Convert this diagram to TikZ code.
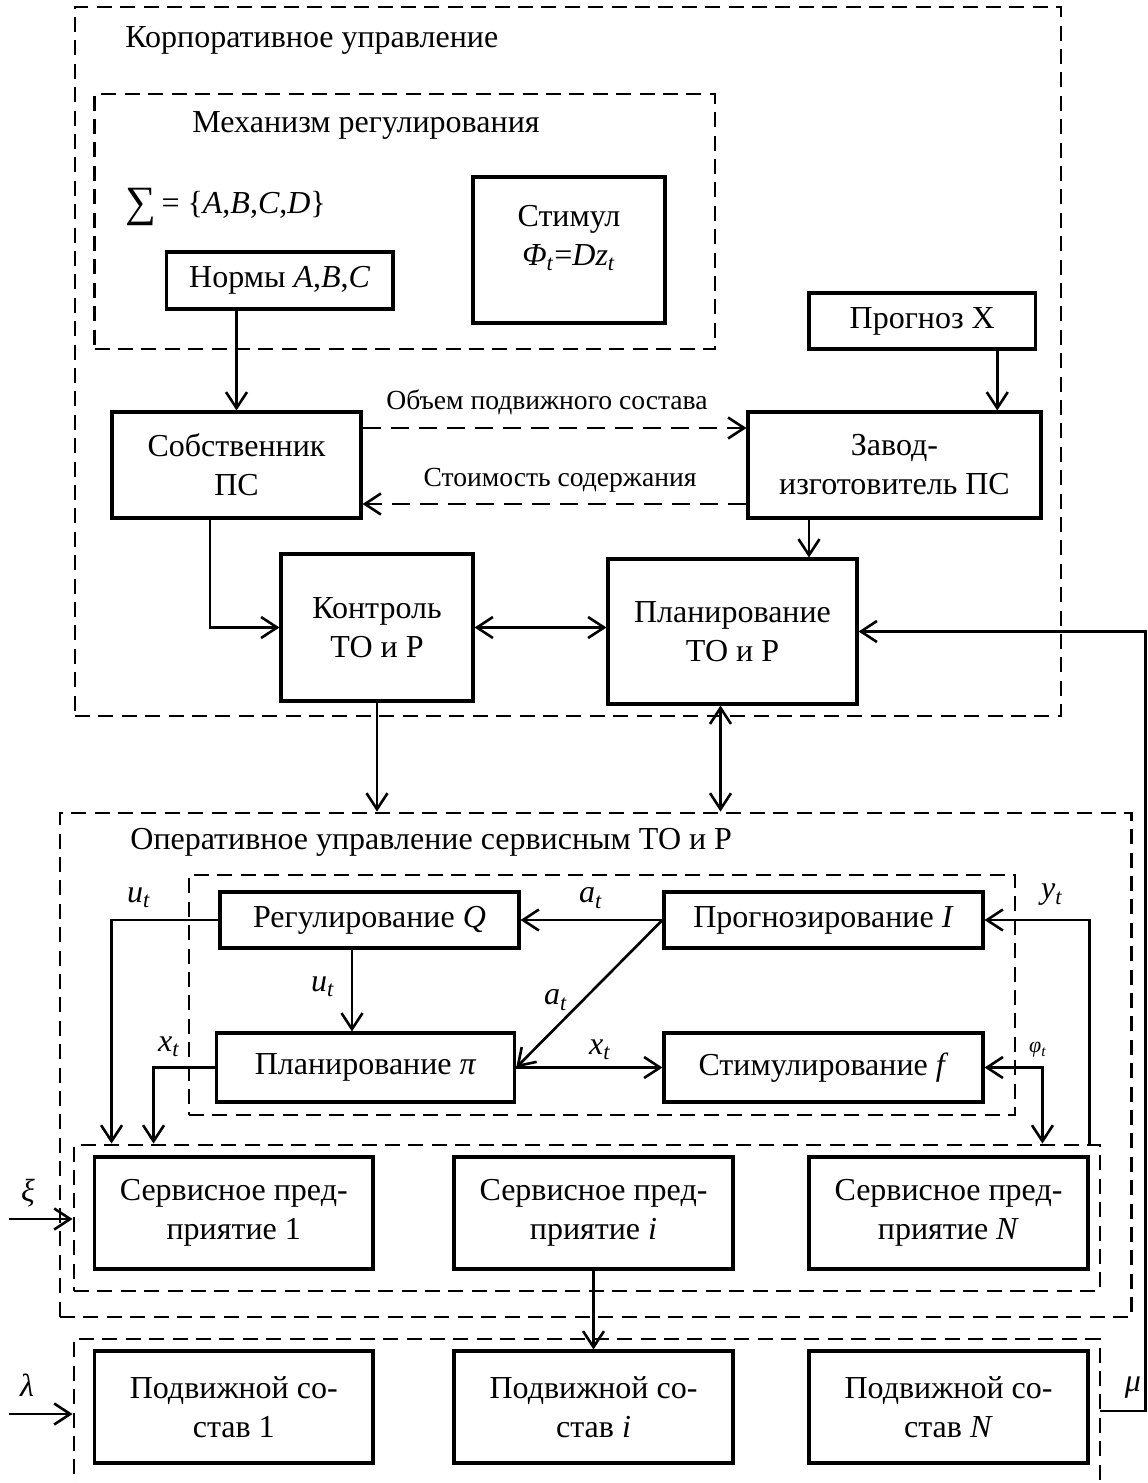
\documentclass[tikz,border=0pt]{standalone}
\usepackage{fontspec}
\setmainfont{Liberation Serif}
\usetikzlibrary{arrows.meta,fit}

\begin{document}
\begin{tikzpicture}[x=0.5pt,y=-0.5pt,
  every node/.style={font=\fontsize{16}{19.5}\selectfont},
  box/.style={draw,line width=1.55pt,inner sep=0pt,align=center},
  frame/.style={draw,line width=1.45pt,dash pattern=on 7.5pt off 4.2pt,inner sep=0pt},
  txt/.style={inner sep=0pt,align=center},
  small/.style={inner sep=0pt,font=\fontsize{13.8}{16}\selectfont},
  link/.style={line width=1.3pt,-{Straight Barb[length=8pt,width=10.5pt]}},
  link2/.style={line width=1.3pt,{Straight Barb[length=8pt,width=10.5pt]}-{Straight Barb[length=8pt,width=10.5pt]}},
  dlink/.style={link,dash pattern=on 9pt off 5pt}
]
\useasboundingbox (0,0) rectangle (1147,1483);

% ---------- corporate level ----------
\node[frame,fit={(75,7) (1061,716)}] (corp) {};
\node[txt,anchor=west] (tcorp) at (125,40) {Корпоративное управление};

\node[frame,fit={(94.5,94) (715,349)}] (mech) {};
\node[txt] (tmech) at (366,125) {Механизм регулирования};
\node[txt,anchor=west] (sigma) at (125,207) {\raisebox{-0.2ex}{\scalebox{1.35}{∑}}\,= \{\textit{A},\textit{B},\textit{C},\textit{D}\}};
\node[box,fit={(166.5,252) (393,309)}] (norms) {};
\node[txt] (normstxt) at (norms.center) {Нормы \textit{A},\textit{B},\textit{C}};
\node[box,fit={(473,177) (665,323)}] (stim) {};
\node[txt] (stimtxt) at (569,238) {Стимул\\\textit{Φ}\textsubscript{\textit{t}}=\textit{Dz}\textsubscript{\textit{t}}};

\node[box,fit={(809,293) (1035.5,349)}] (progX) {};
\node[txt] (progXtxt) at (progX.center) {Прогноз X};

\node[box,fit={(112,412) (361,518)}] (sob) {};
\node[txt] (sobtxt) at (sob.center) {Собственник\\ПС};
\node[box,fit={(748,412) (1041,518)}] (zavod) {};
\node[txt] (zavodtxt) at (zavod.center) {Завод-\\изготовитель ПС};
\node[box,fit={(281,554) (473,701)}] (ctrl) {};
\node[txt] (ctrltxt) at (ctrl.center) {Контроль\\ТО и Р};
\node[box,fit={(608,559) (857,704)}] (plan) {};
\node[txt] (plantxt) at (plan.center) {Планирование\\ТО и Р};

\draw[link] (sob.north |- norms.south) -- (sob.north);
\draw[link] ([xshift=37.5pt]progX.south) -- ([xshift=37.5pt]progX.south |- zavod.north);
\draw[dlink] ([yshift=18.5pt]sob.east) -- ([yshift=18.5pt]sob.east -| zavod.west);
\node[small] (lvol) at (547,402) {Объем подвижного состава};
\draw[dlink] ([yshift=-19.5pt]zavod.west) -- ([yshift=-19.5pt]zavod.west -| sob.east);
\node[small] (lcost) at (560,480) {Стоимость содержания};
\draw[link] ([xshift=-13.25pt]sob.south) |- (ctrl.west);
\draw[link2] (ctrl.east) -- (ctrl.east -| plan.west);
\draw[link] ([xshift=-42.75pt]zavod.south) -- ([xshift=-42.75pt]zavod.south |- plan.north);

% ---------- operational level ----------
\node[frame,fit={(60,813) (1131.5,1317)}] (op) {};
\node[txt,anchor=west] (top) at (130,842) {Оперативное управление сервисным ТО и Р};

\draw[link] (ctrl.south) -- (ctrl.south |- op.north);
\draw[link2] ([xshift=-6pt]plan.south) -- ([xshift=-6pt]plan.south |- op.north);

\node[frame,fit={(189,875) (1015,1115)}] (algo) {};
\node[box,fit={(220,892) (519,948)}] (reg) {};
\node[txt] (regtxt) at (reg.center) {Регулирование \textit{Q}};
\node[box,fit={(664,892) (983,948)}] (prog) {};
\node[txt] (progtxt) at (prog.center) {Прогнозирование \textit{I}};
\node[box,fit={(216.6,1033) (514.7,1102)}] (planpi) {};
\node[txt] (planpitxt) at (planpi.center) {Планирование \textit{π}};
\node[box,fit={(664,1033) (983,1102)}] (stimf) {};
\node[txt] (stimftxt) at (stimf.center) {Стимулирование \textit{f}};

\node[frame,fit={(74,1145) (1100,1291)}] (serv) {};
\node[box,fit={(94.5,1157) (373,1269)}] (s1) {};
\node[txt] (s1txt) at (s1.center) {Сервисное пред-\\приятие 1};
\node[box,fit={(454,1157) (733,1269)}] (si) {};
\node[txt] (sitxt) at (si.center) {Сервисное пред-\\приятие \textit{i}};
\node[box,fit={(809,1157) (1088,1269)}] (sN) {};
\node[txt] (sNtxt) at (sN.center) {Сервисное пред-\\приятие \textit{N}};

\draw[link] (prog.west) -- (reg.east);
\node[txt] (la1) at (591,898) {\textit{a}\textsubscript{\textit{t}}};
\draw[link] (prog.west) -- (planpi.east);
\node[txt] (la2) at (556,1000) {\textit{a}\textsubscript{\textit{t}}};
\draw[link] ([xshift=-8.75pt]reg.south) -- ([xshift=-8.75pt]reg.south |- planpi.north);
\node[txt] (lu2) at (323,987) {\textit{u}\textsubscript{\textit{t}}};
\draw[link] (planpi.east) -- (stimf.west);
\node[txt] (lx2) at (600,1050) {\textit{x}\textsubscript{\textit{t}}};

\draw[link] (reg.west) -| ([shift={(39,0)}]serv.north west);
\node[txt] (lu1) at (139,898) {\textit{u}\textsubscript{\textit{t}}};
\draw[link] (planpi.west) -| ([shift={(81,0)}]serv.north west);
\node[txt] (lx1) at (169,1047) {\textit{x}\textsubscript{\textit{t}}};
\draw[link] ([shift={(-12,0)}]serv.north east) |- (prog.east);
\node[txt] (ly) at (1052,895) {\textit{y}\textsubscript{\textit{t}}};
\draw[link2] (stimf.east) -| ([shift={(-59,0)}]serv.north east);
\node[txt,font=\fontsize{11}{12}\selectfont] (lphi) at (1038,1050) {\textit{φ}\textsubscript{\textit{t}}};

\coordinate (xiin) at (9,1219);
\draw[link] (xiin) -- (xiin -| serv.west);
\node[txt] (lxi) at (28,1193) {\textit{ξ}};

% ---------- rolling stock ----------
\node[frame,fit={(74,1339) (1100,1530)}] (pod) {};
\node[box,fit={(94.5,1351) (373,1463)}] (p1) {};
\node[txt] (p1txt) at (p1.center) {Подвижной со-\\став 1};
\node[box,fit={(454,1351) (733,1463)}] (pi) {};
\node[txt] (pitxt) at (pi.center) {Подвижной со-\\став \textit{i}};
\node[box,fit={(809,1351) (1088,1463)}] (pN) {};
\node[txt] (pNtxt) at (pN.center) {Подвижной со-\\став \textit{N}};

\draw[link] (si.south) -- (pi.north);

\coordinate (lamin) at (9,1414);
\draw[link] (lamin) -- (lamin -| pod.west);
\node[txt] (llam) at (27,1385) {\textit{λ}};

\coordinate (muout) at (1100,1411);
\coordinate (rcor) at (1145.5,631.5);
\draw[link] (muout) -| (rcor) -- (rcor -| plan.east);
\node[txt] (lmu) at (1133,1388) {\textit{μ}};
\end{tikzpicture}
\end{document}
